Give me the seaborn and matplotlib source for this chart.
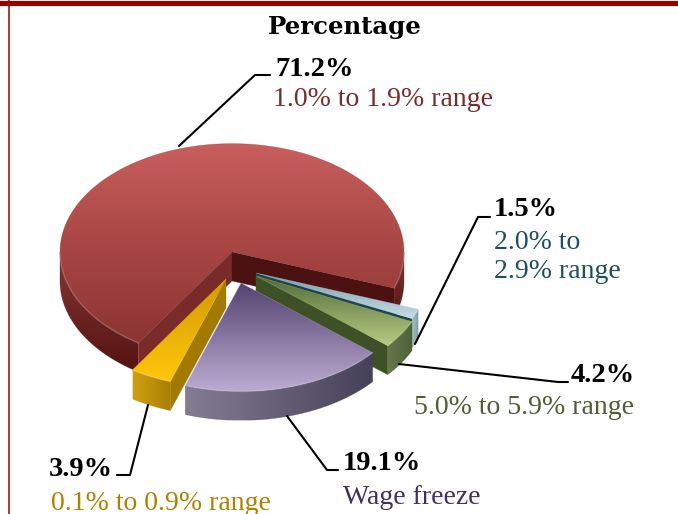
import numpy as np
import matplotlib
matplotlib.use("Agg")
import matplotlib.pyplot as plt
from matplotlib.patches import Polygon
import seaborn as sns

# values, counter clockwise starting with the big red slice
ranges = ["1.0% to 1.9% range", "0.1% to 0.9% range", "Wage freeze",
          "5.0% to 5.9% range", "2.0% to\n2.9% range"]
share = [71.2, 3.9, 19.1, 4.2, 1.5]
share_labels = ["71.2%", "3.9%", "19.1%", "4.2%", "1.5%"]

# pie geometry in pixels
CX, CY = 232, 252
RX = 172
TILT = 0.63
DEPTH = 29
START = -19.5
shifts = [(0, 0), (-6, 27), (9, 31), (24, 24), (24, 21)]
draw_order = [0, 4, 3, 2, 1]

top_cols = [["#C75F5D", "#A94745", "#8B3533"],
            ["#D29A00", "#FFC70C"],
            ["#54426F", "#BBABD1"],
            ["#536C38", "#B6CB83"],
            ["#7A9BA6", "#C6DEE6"]]
wall_cols = [["#853836", "#551312"],
             ["#CFA012", "#A97F02"],
             ["#857D92", "#46415A"],
             ["#64784A", "#4E5F38"],
             ["#A5BFC9", "#7F9AA5"]]
cw_face = ["#4B1211", "#A87F05", "#46415A", "#3E5126", "#1D4550"]
ccw_face = ["#7A2B29", "#A27A02", "#46415A", "#3E5126", "#1D4550"]

sns.set_theme(style="white")
plt.rcParams["font.family"] = ["Liberation Serif", "DejaVu Serif"]

fig, ax = plt.subplots(figsize=(6.78, 5.14), dpi=100)
fig.subplots_adjust(0, 0, 1, 1)
ax.set_axis_off()
z = [10]


def rim(a, cx, cy):
    a = np.radians(a)
    return np.column_stack([cx + RX * np.cos(a), cy - RX * TILT * np.sin(a)])


def grad_fill(xy, colors, horizontal=False):
    # polygon filled with a gradient, clipped image
    z[0] += 1
    cmap = sns.blend_palette(colors, as_cmap=True)
    x0, x1 = xy[:, 0].min(), xy[:, 0].max()
    y0, y1 = xy[:, 1].min(), xy[:, 1].max()
    g = np.linspace(0, 1, 128)
    g = g.reshape(1, -1) if horizontal else g.reshape(-1, 1)
    im = ax.imshow(g, cmap=cmap, vmin=0, vmax=1, extent=(x0, x1, y1, y0),
                   aspect="auto", zorder=z[0], interpolation="bilinear")
    p = Polygon(xy, closed=True, transform=ax.transData)
    im.set_clip_path(p)
    z[0] += 1
    ax.add_patch(Polygon(xy, closed=True, fill=False, ec=colors[-1], lw=0.4,
                         alpha=0.5, zorder=z[0]))


def front_arcs(a0, a1):
    # parts of the arc a0..a1 facing the viewer
    out = []
    for lo, hi in [(-180, 0), (180, 360)]:
        s, e = max(a0, lo), min(a1, hi)
        if e > s:
            out.append(np.linspace(s, e, 80))
    return out


spans = np.array(share) / sum(share) * 360
ends = START + np.cumsum(spans)
starts = ends - spans

for i in draw_order:
    a0, a1 = starts[i], ends[i]
    # slices after the red one wrap round below zero
    if i > 0:
        a0, a1 = a0 - 360, a1 - 360
    cx, cy = CX + shifts[i][0], CY + shifts[i][1]
    apex = np.array([cx, cy])

    # cut faces
    if np.sin(np.radians(a1 + 90)) < 0:
        pt = rim(np.array([a1]), cx, cy)[0]
        grad_fill(np.array([apex, pt, pt + [0, DEPTH], apex + [0, DEPTH]]),
                  [ccw_face[i], ccw_face[i]])
    if np.sin(np.radians(a0 - 90)) < 0:
        pt = rim(np.array([a0]), cx, cy)[0]
        grad_fill(np.array([apex, pt, pt + [0, DEPTH], apex + [0, DEPTH]]),
                  [cw_face[i], cw_face[i]])

    # outer wall
    for arc in front_arcs(a0, a1):
        up = rim(arc, cx, cy)
        down = up[::-1] + [0, DEPTH]
        grad_fill(np.vstack([up, down]), wall_cols[i], horizontal=(i > 0))

    # top
    arc = np.linspace(a0, a1, 300)
    top = np.vstack([apex, rim(arc, cx, cy)])
    grad_fill(top, top_cols[i])
    for part in front_arcs(a0, a1):
        z[0] += 1
        r = rim(part, cx, cy)
        ax.plot(r[:, 0], r[:, 1], color="white", alpha=0.15, lw=1.2, zorder=z[0])

ax.set_xlim(0, 678)
ax.set_ylim(514, 0)

# frame
ax.axhline(2.5, color="#990000", lw=3.7, zorder=200)
ax.axvline(8.5, color="#990000", lw=1.1, zorder=200)

# leader lines
lk = dict(color="black", lw=1.5, zorder=150, solid_joinstyle="round")
ax.plot([179, 255, 270], [146, 75, 75], **lk)
ax.plot([415, 478, 490], [344, 217, 217], **lk)
ax.plot([399, 558, 568], [364, 382, 382], **lk)
ax.plot([287, 327, 338], [416, 470, 470], **lk)
ax.plot([148, 130, 117], [405, 475, 475], **lk)

# text
ax.text(345, 27, "Percentage", ha="center", va="center", fontsize=17.6,
        fontweight="bold", family="DejaVu Serif", color="black", zorder=160)
bold = dict(fontsize=20.5, fontweight="bold", color="black", va="center", zorder=160)
thin = dict(fontsize=20, va="center", zorder=160)
ax.text(275, 69, share_labels[0], ha="left", **bold)
ax.text(273, 100, ranges[0], ha="left", color="#7A2C2C", **thin)
ax.text(494, 210, share_labels[4], ha="left", **bold)
ax.text(494, 257, ranges[4], ha="left", color="#1F4E5F", linespacing=1.22, **thin)
ax.text(635, 376, share_labels[3], ha="right", **bold)
ax.text(634, 407, ranges[3], ha="right", color="#4F5F33", **thin)
ax.text(343, 463, share_labels[2], ha="left", **bold)
ax.text(343, 497, ranges[2], ha="left", color="#3F3060", **thin)
ax.text(49, 469, share_labels[1], ha="left", **bold)
ax.text(51, 503, ranges[1], ha="left", color="#B08000", **thin)

fig.savefig("out.png", dpi=100)
